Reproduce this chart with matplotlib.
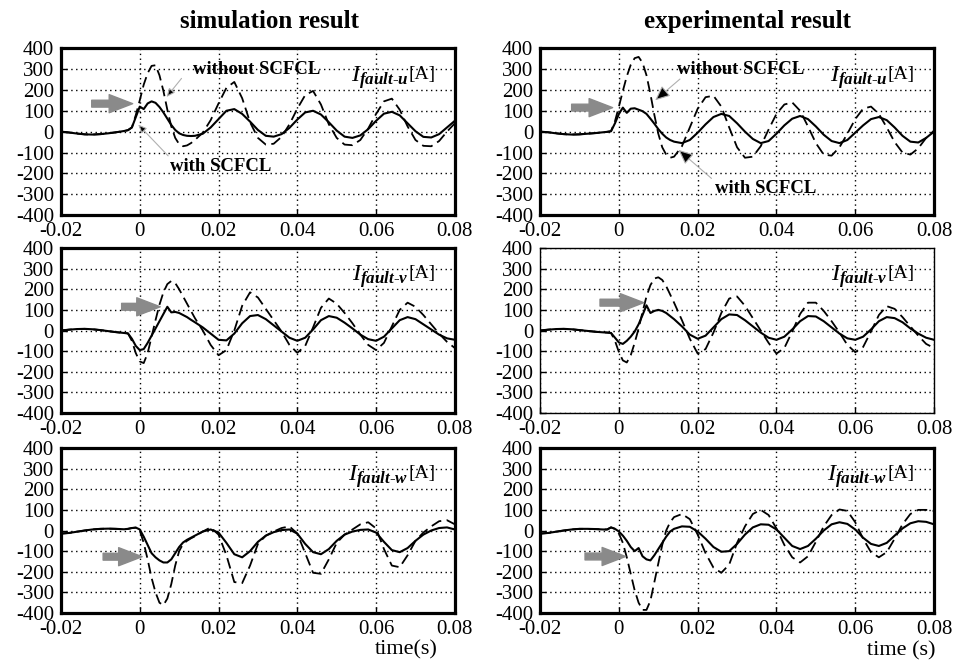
import numpy as np
import matplotlib
matplotlib.use('Agg')
import matplotlib.pyplot as plt

plt.rcParams['font.family'] = ['Liberation Serif', 'DejaVu Serif']
plt.rcParams['mathtext.fontset'] = 'custom'
plt.rcParams['mathtext.rm'] = 'Liberation Serif'
plt.rcParams['mathtext.it'] = 'Liberation Serif:italic'
plt.rcParams['mathtext.bf'] = 'Liberation Serif:bold:italic'
plt.rcParams['axes.unicode_minus'] = False

# time axis (s): coarse before/after the fault, finer around it
T = ([-0.020, -0.018, -0.016, -0.014, -0.012, -0.010, -0.008, -0.006, -0.004]
     + [-0.003, -0.002, -0.001, 0.000, 0.001, 0.002, 0.003, 0.004, 0.005, 0.006,
        0.007, 0.008, 0.009, 0.010, 0.011, 0.012, 0.013, 0.014]
     + [0.016, 0.018, 0.020, 0.022, 0.024, 0.026, 0.028, 0.030, 0.032, 0.034,
        0.036, 0.038, 0.040, 0.042, 0.044, 0.046, 0.048, 0.050, 0.052, 0.054,
        0.056, 0.058, 0.060, 0.062, 0.064, 0.066, 0.068, 0.070, 0.072, 0.074,
        0.076, 0.078, 0.080])

# simulation, with SCFCL (solid) / without SCFCL (dashed), in A
sim_u_with = ([0, -4, -9, -13, -14, -12, -8, -3, 3]
              + [7, 20, 70, 120, 108, 135, 145, 138, 118, 92, 62, 32, 8, -8, -16, -20, -21, -20]
              + [-10, 20, 60, 100, 108, 85, 48, 8, -20, -24, -12, 18, 58, 92, 100, 82, 45, 5,
                 -24, -30, -18, 12, 52, 86, 95, 78, 40, 2, -25, -28, -12, 20, 52])
sim_u_without = ([0, -4, -9, -13, -14, -12, -8, -3, 3]
                 + [7, 20, 80, 150, 225, 280, 315, 318, 270, 195, 105, 25, -30, -60, -70, -66, -55, -40]
                 + [-5, 55, 135, 210, 238, 160, 45, -30, -62, -58, -25, 35, 110, 175, 195, 130, 35,
                    -30, -62, -65, -40, 15, 85, 145, 158, 105, 25, -40, -68, -70, -45, 0, 40])
sim_v_with = ([0, 4, 7, 8, 6, 2, -3, -8, -12]
              + [-14, -40, -75, -95, -90, -60, -25, 10, 45, 80, 115, 88, 90, 85, 75, 65, 52, 40]
              + [15, -15, -45, -48, -15, 35, 70, 75, 55, 25, -5, -35, -50, -35, 5, 50, 70, 62,
                 38, 10, -20, -42, -50, -30, 10, 50, 65, 55, 30, 5, -20, -38, -45])
sim_v_without = ([0, 4, 7, 8, 6, 2, -3, -8, -12]
                 + [-14, -50, -110, -150, -158, -110, -30, 50, 125, 185, 225, 240, 230, 200, 165, 130, 95, 60]
                 + [0, -70, -120, -95, 0, 120, 185, 160, 105, 50, -5, -70, -108, -75, 15, 110, 155,
                    130, 85, 35, -20, -70, -95, -60, 20, 100, 135, 115, 75, 30, -15, -55, -85])
sim_w_with = ([-15, -12, -6, 0, 5, 8, 9, 8, 6]
              + [8, 12, 14, 5, -30, -70, -110, -130, -145, -155, -155, -140, -110, -80, -58, -45, -35, -25]
              + [-5, 5, -10, -60, -115, -130, -100, -55, -25, -8, 2, 5, -15, -65, -105, -115, -90,
                 -50, -20, -5, 3, 5, -10, -55, -95, -105, -85, -50, -20, 0, 12, 15, 5])
sim_w_without = ([-15, -12, -6, 0, 5, 8, 9, 8, 6]
                 + [8, 12, 14, 0, -60, -140, -230, -300, -350, -362, -330, -260, -170, -100, -65, -50, -38, -28]
                 + [-5, 15, -20, -120, -250, -255, -170, -65, -25, -5, 12, 20, -15, -110, -205, -210,
                    -140, -60, -20, 5, 30, 40, 10, -90, -170, -178, -120, -50, -10, 20, 45, 50, 30])

# experiment
exp_u_with = ([0, -3, -8, -12, -14, -13, -10, -7, -3]
              + [-1, 2, 40, 85, 115, 90, 110, 112, 105, 98, 85, 62, 38, 12, -10, -28, -40, -48]
              + [-55, -40, -5, 35, 70, 85, 75, 40, 0, -35, -55, -45, -10, 30, 62, 75, 60, 25,
                 -15, -45, -55, -40, -5, 30, 60, 70, 55, 20, -20, -48, -52, -30, 0])
exp_u_without = ([0, -3, -8, -12, -14, -13, -10, -7, -3]
                 + [-1, 2, 50, 120, 195, 265, 320, 352, 358, 330, 270, 180, 80, -10, -75, -110, -125, -120]
                 + [-70, 20, 110, 165, 172, 120, 20, -75, -125, -120, -70, 10, 85, 130, 140, 100, 25,
                    -55, -110, -115, -75, -10, 60, 110, 120, 85, 20, -50, -100, -110, -80, -30, 5])
exp_v_with = ([0, 4, 7, 8, 6, 2, -2, -6, -9]
              + [-10, -12, -35, -58, -65, -50, -30, -5, 30, 75, 122, 85, 95, 100, 95, 85, 70, 55]
              + [20, -20, -40, -25, 15, 55, 78, 75, 50, 20, -10, -35, -45, -30, 5, 45, 70, 68,
                 45, 15, -15, -38, -45, -30, 5, 45, 65, 60, 40, 10, -15, -35, -45])
exp_v_without = ([0, 4, 7, 8, 6, 2, -2, -6, -9]
                 + [-10, -12, -50, -105, -145, -155, -120, -60, 10, 90, 165, 220, 252, 258, 245, 215, 175, 135]
                 + [50, -40, -112, -90, -10, 85, 155, 165, 120, 60, 0, -60, -112, -85, -5, 80, 135,
                    135, 95, 45, -10, -70, -105, -80, -5, 75, 118, 105, 65, 20, -25, -65, -85])
exp_w_with = ([-15, -12, -6, 0, 5, 8, 8, 7, 5]
              + [5, 15, 8, -5, -25, -50, -80, -100, -85, -125, -140, -145, -120, -90, -60, -30, -5, 8]
              + [20, 18, -5, -40, -80, -103, -100, -65, -20, 15, 30, 28, 5, -35, -75, -90, -75,
                 -40, 0, 30, 40, 32, 5, -35, -65, -75, -60, -25, 10, 35, 45, 42, 30])
exp_w_without = ([-15, -12, -6, 0, 5, 8, 8, 7, 5]
                 + [5, 15, 8, -15, -60, -130, -210, -290, -350, -385, -385, -340, -250, -160, -70, 0, 40, 65]
                 + [80, 55, -20, -110, -180, -205, -165, -60, 20, 80, 100, 75, 10, -70, -130, -155,
                    -125, -55, 20, 75, 102, 95, 40, -40, -105, -130, -105, -40, 30, 80, 100, 100, 95])

phases = ['u', 'v', 'w']
sim_with = [sim_u_with, sim_v_with, sim_w_with]
sim_without = [sim_u_without, sim_v_without, sim_w_without]
exp_with = [exp_u_with, exp_v_with, exp_w_with]
exp_without = [exp_u_without, exp_v_without, exp_w_without]

# gray arrows marking the limiting instant: (t_start, t_end, current)
sim_marks = [(-0.0122, -0.0018, 134), (-0.0046, 0.0052, 115), (-0.0093, 0.0006, -127)]
exp_marks = [(-0.0120, -0.0016, 115), (-0.0048, 0.0063, 135), (-0.0086, 0.0017, -126)]

fig = plt.figure(figsize=(9.56, 6.64), dpi=100)
lefts = [0.0638, 0.565]
bottoms = [0.676, 0.378, 0.0768]
heights = [0.2515, 0.2485, 0.2485]
W = 0.412

axes = {}
for c in range(2):
    for r in range(3):
        ax = fig.add_axes([lefts[c], bottoms[r], W, heights[r]])
        axes[(c, r)] = ax
        ws = sim_with if c == 0 else exp_with
        wo = sim_without if c == 0 else exp_without
        ax.plot(T, wo[r], color='black', lw=1.3, ls=(0, (6, 3)))
        ax.plot(T, ws[r], color='black', lw=1.5)
        ax.set_xlim(-0.02, 0.08)
        ax.set_ylim(-400, 400)
        ax.set_xticks([-0.02, 0, 0.02, 0.04, 0.06, 0.08])
        ax.set_xticklabels(['-0.02', '0', '0.02', '0.04', '0.06', '0.08'])
        ax.set_yticks(range(-400, 401, 100))
        ax.grid(True, color='black', ls=(0, (1, 2.5)), lw=1.0)
        ax.tick_params(direction='in', length=4, width=1, labelsize=15, pad=5)
        ax.tick_params(axis='y', pad=5)
        lw = 1.0 if (c, r) == (1, 1) else 2.3
        for s in ax.spines.values():
            s.set_linewidth(lw)
        m = (sim_marks if c == 0 else exp_marks)[r]
        ax.annotate('', xy=(m[1], m[2]), xytext=(m[0], m[2]),
                    arrowprops=dict(arrowstyle='simple,head_length=1.3,head_width=1.0,tail_width=0.38',
                                    color='#8a8a8a', mutation_scale=13, shrinkA=0, shrinkB=0))
        t1 = ax.text(0.882, 0.825, r'$I_{\mathbf{fault}\text{-}\mathbf{%s}}$' % phases[r],
                     transform=ax.transAxes, ha='right', va='center', fontsize=17.5)
        ax.annotate('[A]', xy=(1.0, 0.62), xycoords=t1, ha='left', va='center', fontsize=14)

# annotation arrows in the top panels
ann = dict(arrowstyle='-|>,head_length=0.5,head_width=0.22', fc='black', ec='#b0b0b0', lw=0.8,
           shrinkA=0, shrinkB=0)
ax = axes[(0, 0)]
ax.text(0.0136, 300, 'without SCFCL', fontsize=13.5, fontweight='bold', va='center')
ax.annotate('', xy=(0.0068, 166), xytext=(0.0106, 255), arrowprops=ann)
ax.text(0.0077, -165, 'with SCFCL', fontsize=13.5, fontweight='bold', va='center')
ax.annotate('', xy=(-0.0004, 34), xytext=(0.0072, -116), arrowprops=ann)

ann2 = dict(ann, arrowstyle='-|>,head_length=0.9,head_width=0.4')
ax = axes[(1, 0)]
ax.text(0.0147, 300, 'without SCFCL', fontsize=13.5, fontweight='bold', va='center')
ax.annotate('', xy=(0.0092, 150), xytext=(0.0155, 252), arrowprops=ann2)
ax.text(0.0244, -272, 'with SCFCL', fontsize=13.5, fontweight='bold', va='center')
ax.annotate('', xy=(0.0151, -87), xytext=(0.0235, -224), arrowprops=ann2)

fig.text(0.2824, 0.968, 'simulation result', fontsize=18, fontweight='bold', ha='center', va='center')
fig.text(0.782, 0.968, 'experimental result', fontsize=18, fontweight='bold', ha='center', va='center')
fig.text(0.458, 0.022, 'time(s)', fontsize=16, ha='right', va='center')
fig.text(0.979, 0.02, 'time (s)', fontsize=16, ha='right', va='center')

fig.savefig('out.png', dpi=100)
